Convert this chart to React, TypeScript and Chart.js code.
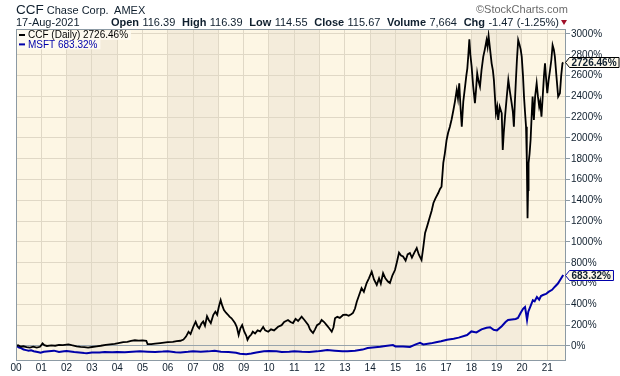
import React, { useEffect, useRef } from "react";
import { Chart, registerables } from "chart.js";

Chart.register(...registerables);

// ---------- data (x = years since Jan 2000, y = % change) ----------
const ccfYears = [
  0.0, 0.08, 0.18, 0.29, 0.42, 0.55, 0.68, 0.82, 0.95, 1.05, 1.12, 1.22, 1.4, 1.55, 1.7, 1.85,
  2.07, 2.2, 2.4, 2.55, 2.7, 2.85, 3.0, 3.19, 3.35, 3.55, 3.72, 3.9, 4.05, 4.24, 4.4, 4.55,
  4.7, 4.85, 5.0, 5.15, 5.2, 5.35, 5.5, 5.7, 5.85, 6.0, 6.2, 6.35, 6.5, 6.62, 6.72, 6.82,
  6.9, 7.0, 7.1, 7.17, 7.24, 7.33, 7.4, 7.47, 7.55, 7.62, 7.7, 7.8, 7.88, 7.95, 8.02, 8.09,
  8.15, 8.22, 8.3, 8.38, 8.44, 8.52, 8.6, 8.66, 8.73, 8.8, 8.87, 8.94, 9.02, 9.1, 9.15, 9.22,
  9.3, 9.36, 9.45, 9.55, 9.65, 9.77, 9.85, 9.97, 10.08, 10.2, 10.36, 10.5, 10.6, 10.75, 10.85, 10.95,
  11.05, 11.15, 11.29, 11.4, 11.55, 11.62, 11.68, 11.74, 11.82, 11.9, 12.0, 12.08, 12.18, 12.28, 12.38, 12.48,
  12.55, 12.61, 12.7, 12.8, 12.93, 13.05, 13.15, 13.25, 13.32, 13.4, 13.47, 13.55, 13.66, 13.75, 13.86, 13.95,
  14.06, 14.15, 14.26, 14.35, 14.42, 14.51, 14.6, 14.7, 14.78, 14.88, 14.98, 15.05, 15.14, 15.22, 15.3, 15.4,
  15.48, 15.57, 15.65, 15.75, 15.84, 15.92, 16.03, 16.1, 16.17, 16.25, 16.36, 16.43, 16.5, 16.58, 16.69, 16.76,
  16.82, 16.89, 16.95, 17.02, 17.08, 17.15, 17.22, 17.29, 17.35, 17.42, 17.47, 17.52, 17.57, 17.62, 17.68, 17.75,
  17.8, 17.84, 17.88, 17.92, 17.96, 18.01, 18.07, 18.14, 18.18, 18.23, 18.28, 18.34, 18.4, 18.47, 18.53, 18.6,
  18.64, 18.68, 18.74, 18.8, 18.85, 18.89, 18.93, 18.97, 19.02, 19.06, 19.12, 19.2, 19.24, 19.28, 19.33, 19.4,
  19.46, 19.52, 19.59, 19.64, 19.68, 19.72, 19.76, 19.8, 19.85, 19.9, 19.95, 19.99, 20.04, 20.08, 20.12, 20.16,
  20.19, 20.22, 20.24, 20.26, 20.3, 20.34, 20.38, 20.42, 20.47, 20.52, 20.58, 20.63, 20.68, 20.72, 20.77, 20.82,
  20.87, 20.91, 20.96, 21.0, 21.05, 21.11, 21.16, 21.21, 21.26, 21.3, 21.36, 21.43, 21.5, 21.55, 21.6, 21.63,
];
const ccfValues = [
  0, 8, -6, -3, -12, -15, -6, -16, -8, 25, 8, 0, 6, 2, 10, 8,
  16, 8, -3, -8, -12, -16, -10, -3, 2, 10, 16, 20, 28, 36, 40, 48,
  55, 52, 54, 50, 18, 17, 22, 28, 32, 36, 40, 46, 50, 62, 90, 137,
  115, 180, 233, 190, 170, 215, 235, 195, 285, 250, 220, 300, 330, 300, 380, 442,
  390, 346, 320, 300, 282, 266, 240, 218, 180, 106, 170, 202, 140, 100, 58, 90,
  110, 137, 120, 150, 140, 183, 150, 137, 160, 150, 185, 200, 230, 250, 230, 220,
  260, 240, 282, 250, 202, 160, 140, 125, 160, 200, 215, 250, 230, 200, 170, 137,
  180, 266, 280, 270, 298, 300, 290, 305, 318, 360, 426, 480, 556, 520, 605, 650,
  714, 640, 586, 650, 600, 700, 650, 620, 605, 680, 730, 800, 897, 870, 860, 820,
  880, 894, 850, 900, 942, 880, 827, 950, 1087, 1150, 1243, 1300, 1375, 1420, 1471, 1510,
  1532, 1760, 1850, 1981, 2050, 2109, 2180, 2269, 2350, 2462, 2380, 2526, 2300, 2109, 2350, 2494,
  2600, 2670, 2800, 2949, 2800, 2686, 2500, 2334, 2450, 2622, 2550, 2494, 2650, 2782, 2850, 2942,
  2880, 2981, 2850, 2718, 2650, 2558, 2400, 2237, 2300, 2173, 2300, 2237, 1885, 2050, 2205, 2400,
  2558, 2450, 2337, 2250, 2109, 2350, 2558, 2750, 2942, 2900, 2850, 2782, 2600, 2398, 2250, 2109,
  1800, 1228, 1500, 1757, 1850, 1981, 2200, 2398, 2173, 2400, 2526, 2400, 2301, 2350, 2205, 2400,
  2600, 2718, 2550, 2430, 2550, 2654, 2750, 2894, 2850, 2782, 2600, 2398, 2430, 2600, 2718, 2726.46,
];

const msftYears = [
  0, 0.05, 0.12, 0.2, 0.3, 0.4, 0.5, 0.6, 0.7, 0.8, 0.9, 0.97, 1.1, 1.3, 1.5, 1.7,
  1.9, 2.0, 2.3, 2.5, 2.7, 2.8, 3.0, 3.3, 3.5, 3.8, 4.0, 4.3, 4.6, 4.9, 5.2, 5.5,
  5.8, 6.0, 6.3, 6.5, 6.8, 7.0, 7.3, 7.6, 7.85, 8.1, 8.4, 8.7, 8.85, 9.1, 9.3, 9.5,
  9.8, 10.0, 10.3, 10.5, 10.8, 11.0, 11.3, 11.6, 11.9, 12.1, 12.3, 12.6, 12.9, 13.1, 13.4, 13.7,
  13.9, 14.1, 14.4, 14.6, 14.9, 15.0, 15.3, 15.57, 15.8, 15.97, 16.1, 16.4, 16.6, 16.8, 17.04, 17.3,
  17.5, 17.83, 18.0, 18.2, 18.4, 18.6, 18.74, 18.88, 19.01, 19.2, 19.35, 19.45, 19.6, 19.75, 19.84, 19.95,
  20.05, 20.12, 20.17, 20.2, 20.25, 20.35, 20.43, 20.5, 20.59, 20.68, 20.75, 20.83, 20.95, 21.05, 21.19, 21.3,
  21.42, 21.52, 21.63,
];
const msftValues = [
  0, -5, -15, -20, -35, -40, -45, -42, -50, -55, -60, -65, -55, -50, -45, -58,
  -50, -48, -58, -62, -68, -70, -62, -63, -58, -60, -58, -60, -56, -52, -55, -57,
  -54, -50, -60, -62, -56, -50, -55, -52, -45, -55, -58, -65, -75, -80, -72, -62,
  -50, -48, -52, -58, -55, -50, -55, -58, -52, -45, -40, -45, -52, -50, -45, -35,
  -20, -15, -7, 0, 8, -5, -5, -10, 15, 30, 15, 25, 35, 45, 60, 70,
  80, 105, 140, 130, 160, 175, 180, 155, 150, 190, 230, 250, 255, 260, 270, 320,
  360, 375, 300, 250, 330, 390, 440, 430, 470, 445, 480, 490, 500, 520, 540, 570,
  600, 640, 683.32,
];

const yearTicks = [0, 1, 2, 3, 4, 5, 6, 7, 8, 9, 10, 11, 12, 13, 14, 15, 16, 17, 18, 19, 20, 21];
const yearLabels = ["00", "01", "02", "03", "04", "05", "06", "07", "08", "09", "10", "11", "12", "13", "14", "15", "16", "17", "18", "19", "20", "21"];
const percentTicks = [0, 200, 400, 600, 800, 1000, 1200, 1400, 1600, 1800, 2000, 2200, 2400, 2600, 2800, 3000];
const shadedFrom = [2, 6, 10, 14, 18];
const shadedTo = [4, 8, 12, 16, 20];

const quoteLabels = ["Open", "High", "Low", "Close", "Volume", "Chg"];
const quoteValues = ["116.39", "116.39", "114.55", "115.67", "7,664", "-1.47 (-1.25%)"];

// ---------- styles ----------
const FONT = "'Liberation Sans', Arial, Helvetica, sans-serif";
const TEXT = "#0f1f2e";
const LIGHT = "#fdf6e4";
const DARK = "#f4ecdb";
const GRID = "#e0d8c6";
const FRAME = "#8c9aa4";
const ZERO = "#98a4ac";
const BLUE = "#0000aa";

const fmt = (v: number) => v.toFixed(2);
const ccfLast = ccfValues[ccfValues.length - 1];
const msftLast = msftValues[msftValues.length - 1];

const bgPlugin = {
  id: "bgBands",
  beforeDraw(chart: any) {
    const { ctx, chartArea: a, scales } = chart;
    ctx.save();
    ctx.fillStyle = "#ffffff";
    ctx.fillRect(0, 0, chart.width, chart.height);
    ctx.fillStyle = LIGHT;
    ctx.fillRect(a.left, a.top, a.right - a.left, a.bottom - a.top);
    ctx.fillStyle = DARK;
    shadedFrom.forEach((s, i) => {
      const x1 = scales.x.getPixelForValue(s);
      const x2 = scales.x.getPixelForValue(shadedTo[i]);
      ctx.fillRect(x1, a.top, x2 - x1, a.bottom - a.top);
    });
    ctx.restore();
  },
};

const framePlugin = {
  id: "frameLegend",
  afterDatasetsDraw(chart: any) {
    const { ctx, chartArea: a } = chart;
    ctx.save();
    ctx.strokeStyle = FRAME;
    ctx.lineWidth = 1;
    ctx.strokeRect(a.left + 0.5, a.top + 0.5, a.right - a.left - 1, a.bottom - a.top);
    // legend
    ctx.font = `10px ${FONT}`;
    ctx.textBaseline = "middle";
    const rows = [
      { label: `CCF (Daily) ${fmt(ccfLast)}%`, color: "#000000" },
      { label: `MSFT ${fmt(msftLast)}%`, color: BLUE },
    ];
    rows.forEach((r, i) => {
      const y = a.top + 6 + i * 9.4;
      const w = ctx.measureText(r.label).width;
      ctx.fillStyle = "rgba(253,250,240,0.95)";
      ctx.fillRect(a.left + 1, y - 4.5, w + 14, 9.4);
      ctx.fillStyle = r.color;
      ctx.fillRect(a.left + 3, y - 1, 6, 2);
      ctx.fillText(r.label, a.left + 12, y + 0.5);
    });
    ctx.restore();
  },
  afterDraw(chart: any) {
    const { ctx, chartArea: a, scales } = chart;
    ctx.save();
    ctx.font = `bold 10px ${FONT}`;
    ctx.textBaseline = "middle";
    const tags = [
      { v: ccfLast, color: "#000000" },
      { v: msftLast, color: BLUE },
    ];
    tags.forEach((t) => {
      const y = Math.round(scales.y.getPixelForValue(t.v)) + 0.5;
      const text = `${fmt(t.v)}%`;
      const w = ctx.measureText(text).width;
      const x0 = a.right;
      const bx = x0 + 3;
      const r = bx + w + 5;
      ctx.beginPath();
      ctx.moveTo(x0 - 0.5, y);
      ctx.lineTo(bx + 0.5, y - 5);
      ctx.lineTo(r, y - 5);
      ctx.lineTo(r, y + 5);
      ctx.lineTo(bx + 0.5, y + 5);
      ctx.closePath();
      ctx.fillStyle = "#fdf8ea";
      ctx.fill();
      ctx.strokeStyle = t.color;
      ctx.lineWidth = 1;
      ctx.stroke();
      ctx.fillStyle = TEXT;
      ctx.fillText(text, bx + 2.5, y + 0.5);
    });
    ctx.restore();
  },
};

const rowStyle = (top: number): React.CSSProperties => ({
  position: "absolute",
  top,
  fontFamily: FONT,
  fontSize: 11,
  lineHeight: "13px",
  color: TEXT,
  whiteSpace: "pre",
});

export default function App() {
  const ref = useRef<HTMLCanvasElement | null>(null);

  useEffect(() => {
    if (!ref.current) return;
    const chart = new Chart(ref.current, {
      type: "line",
      data: {
        datasets: [
          {
            label: "CCF",
            data: ccfYears.map((x, i) => ({ x, y: ccfValues[i] })),
            borderColor: "#000000",
            borderWidth: 1.8,
            pointRadius: 0,
            tension: 0,
          },
          {
            label: "MSFT",
            data: msftYears.map((x, i) => ({ x, y: msftValues[i] })),
            borderColor: BLUE,
            borderWidth: 2,
            pointRadius: 0,
            tension: 0,
          },
        ],
      },
      options: {
        animation: false,
        responsive: false,
        maintainAspectRatio: false,
        devicePixelRatio: 1,
        layout: { padding: { left: 16, top: 29, right: 0, bottom: 0 } },
        plugins: { legend: { display: false }, tooltip: { enabled: false } },
        scales: {
          x: {
            type: "linear",
            min: 0,
            max: 21.74,
            border: { display: false },
            grid: { color: GRID, lineWidth: 1, drawTicks: false },
            afterBuildTicks: (axis: any) => {
              axis.ticks = yearTicks.map((v) => ({ value: v }));
            },
            afterFit: (axis: any) => {
              axis.height = 16;
            },
            ticks: {
              autoSkip: false,
              maxRotation: 0,
              padding: 2,
              color: TEXT,
              font: { family: FONT, size: 10 },
              callback: (v: any) => yearLabels[yearTicks.indexOf(Number(v))] ?? "",
            },
          },
          y: {
            type: "linear",
            position: "right",
            min: -135,
            max: 3048,
            border: { display: false },
            grid: {
              color: (c: any) => (c.tick && c.tick.value === 0 ? ZERO : GRID),
              lineWidth: 1,
              tickLength: 4,
              tickColor: FRAME,
            },
            afterBuildTicks: (axis: any) => {
              axis.ticks = percentTicks.map((v) => ({ value: v }));
            },
            afterFit: (axis: any) => {
              axis.width = 54;
            },
            ticks: {
              padding: 1,
              color: TEXT,
              font: { family: FONT, size: 10 },
              callback: (v: any) => `${v}%`,
            },
          },
        },
      },
      plugins: [bgPlugin, framePlugin],
    } as any);
    return () => chart.destroy();
  }, []);

  return (
    <div style={{ position: "absolute", left: 0, top: 0, width: 620, height: 376, background: "#fff", overflow: "hidden" }}>
      <canvas ref={ref} width={620} height={376} style={{ position: "absolute", left: 0, top: 0, width: 620, height: 376 }} />
      <div style={{ ...rowStyle(3), left: 16 }}>
        <span style={{ fontSize: 13.5 }}>CCF</span>
        {" Chase Corp.  AMEX"}
      </div>
      <div style={{ ...rowStyle(3), left: 476, color: "#6a6a6a" }}>©StockCharts.com</div>
      <div style={{ ...rowStyle(16), left: 16 }}>17-Aug-2021</div>
      <div style={{ ...rowStyle(16), right: 53, textAlign: "right", wordSpacing: "0.3px" }}>
        {quoteLabels.map((l, i) => (
          <React.Fragment key={l}>
            {i > 0 ? "  " : ""}
            <b>{l}</b>
            {" " + quoteValues[i]}
          </React.Fragment>
        ))}
        <span
          style={{
            display: "inline-block",
            marginLeft: 2,
            width: 0,
            height: 0,
            verticalAlign: "1px",
            borderLeft: "3.5px solid transparent",
            borderRight: "3.5px solid transparent",
            borderTop: "5px solid #a0102a",
          }}
        />
      </div>
    </div>
  );
}
